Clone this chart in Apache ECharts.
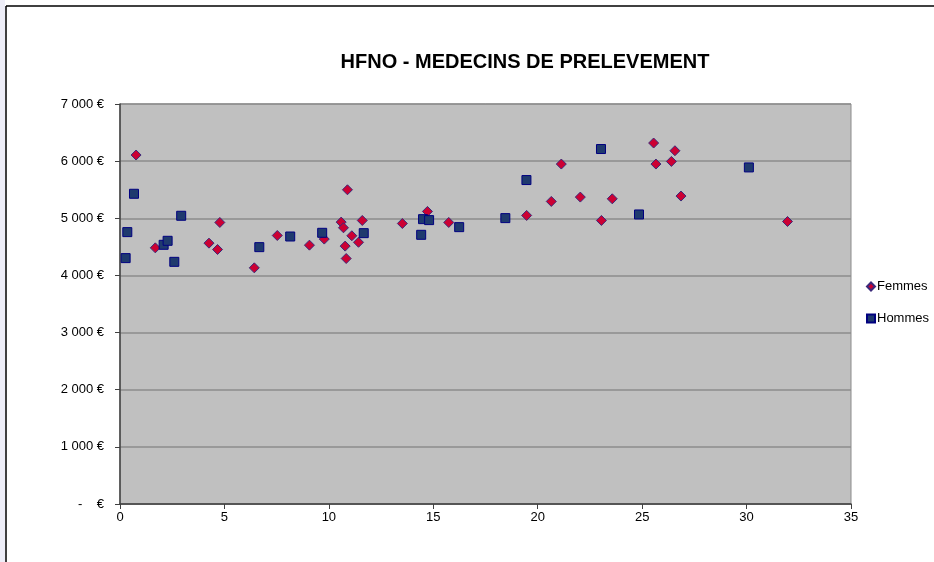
<!DOCTYPE html>
<html>
<head>
<meta charset="utf-8">
<script src="https://cdn.jsdelivr.net/npm/echarts@6/dist/echarts.min.js"></script>
<style>
  html, body { margin: 0; padding: 0; background: #fff; }
  #chart { width: 934px; height: 562px; }
</style>
</head>
<body>
<div id="chart"></div>
<script>
// ancienneté (années) et rémunération
const femmesX = [0.77, 1.69, 4.26, 4.67, 4.78, 6.43, 7.53, 9.07, 9.78, 10.59, 10.70, 10.78, 10.83, 10.89, 11.1, 11.42, 11.6, 13.52, 14.72, 15.74, 19.47, 20.65, 21.13, 22.04, 23.05, 23.57, 25.55, 25.66, 26.4, 26.57, 26.86, 31.96]
const femmesY = [6107, 4483, 4565, 4454, 4927, 4133, 4699, 4530, 4636, 4933, 4834, 4513, 4296, 5499, 4694, 4580, 4962, 4909, 5120, 4927, 5050, 5295, 5949, 5371, 4962, 5341, 6317, 5949, 5995, 6182, 5389, 4944]

const hommesX = [0.27, 0.35, 0.67, 2.09, 2.28, 2.6, 2.93, 6.67, 8.15, 9.68, 11.67, 14.42, 14.51, 14.8, 16.24, 18.45, 19.46, 23.03, 24.85, 30.11]
const hommesY = [4303, 4758, 5429, 4536, 4606, 4238, 5044, 4495, 4681, 4746, 4740, 4711, 4985, 4968, 4845, 5003, 5669, 6212, 5067, 5890]

const chart = echarts.init(document.getElementById('chart'))
const font = 'Liberation Sans, Arial, sans-serif'

const option = {
  animation: false,
  textStyle: { fontFamily: font },
  title: {
    text: 'HFNO - MEDECINS DE PRELEVEMENT',
    left: 520,
    top: 47,
    textAlign: 'center',
    textStyle: { fontSize: 20, fontWeight: 'bold', color: '#000', fontFamily: font },
  },
  legend: {
    orient: 'vertical',
    left: 861,
    top: 275,
    itemGap: 19,
    itemWidth: 8,
    itemHeight: 8,
    textStyle: { fontSize: 13, color: '#000', fontFamily: font, padding: [0, 0, 0, -3] },
    data: [
      { name: 'Femmes', icon: 'diamond' },
      { name: 'Hommes', icon: 'rect' },
    ],
  },
  graphic: [
    { type: 'rect', shape: { x: 0, y: 0, width: 5, height: 562 }, style: { fill: '#eeeef8' }, silent: true },
    { type: 'line', shape: { x1: 6, y1: 6, x2: 934, y2: 6 }, style: { stroke: '#000', lineWidth: 1.5 }, silent: true },
    { type: 'line', shape: { x1: 6, y1: 6, x2: 6, y2: 562 }, style: { stroke: '#000', lineWidth: 1.5 }, silent: true },
  ],
  grid: {
    left: 120,
    right: 83,
    top: 104,
    bottom: 58,
    show: true,
    backgroundColor: '#c0c0c0',
    borderColor: '#8c8c8c',
    borderWidth: 1,
  },
  xAxis: {
    type: 'value',
    min: 0,
    max: 35,
    interval: 5,
    axisLine: { show: true, lineStyle: { color: '#404040', width: 1.5 } },
    axisTick: { show: true, length: 5, lineStyle: { color: '#404040' } },
    axisLabel: { fontSize: 13, color: '#000', margin: 7 },
    splitLine: { show: false },
  },
  yAxis: {
    type: 'value',
    min: 0,
    max: 7000,
    interval: 1000,
    axisLine: { show: true, lineStyle: { color: '#404040', width: 1.5 } },
    axisTick: { show: true, length: 5, lineStyle: { color: '#404040' } },
    axisLabel: {
      fontSize: 13,
      color: '#000',
      margin: 16,
      formatter: v => v === 0 ? '-    €' : (v / 1000) + ' 000 €',
    },
    splitLine: { show: true, lineStyle: { color: '#8c8c8c', width: 1.5 } },
  },
  series: [
    {
      name: 'Femmes',
      type: 'scatter',
      symbol: 'diamond',
      symbolSize: 10,
      itemStyle: { color: '#cc0033', borderColor: '#3b2a7a', borderWidth: 1, opacity: 1 },
      data: femmesX.map((x, i) => [x, femmesY[i]]),
    },
    {
      name: 'Hommes',
      type: 'scatter',
      symbol: 'rect',
      symbolSize: 9,
      itemStyle: { color: '#1f3a6e', borderColor: '#000080', borderWidth: 1, opacity: 1 },
      data: hommesX.map((x, i) => [x, hommesY[i]]),
    },
  ],
}

chart.setOption(option)
</script>
</body>
</html>
